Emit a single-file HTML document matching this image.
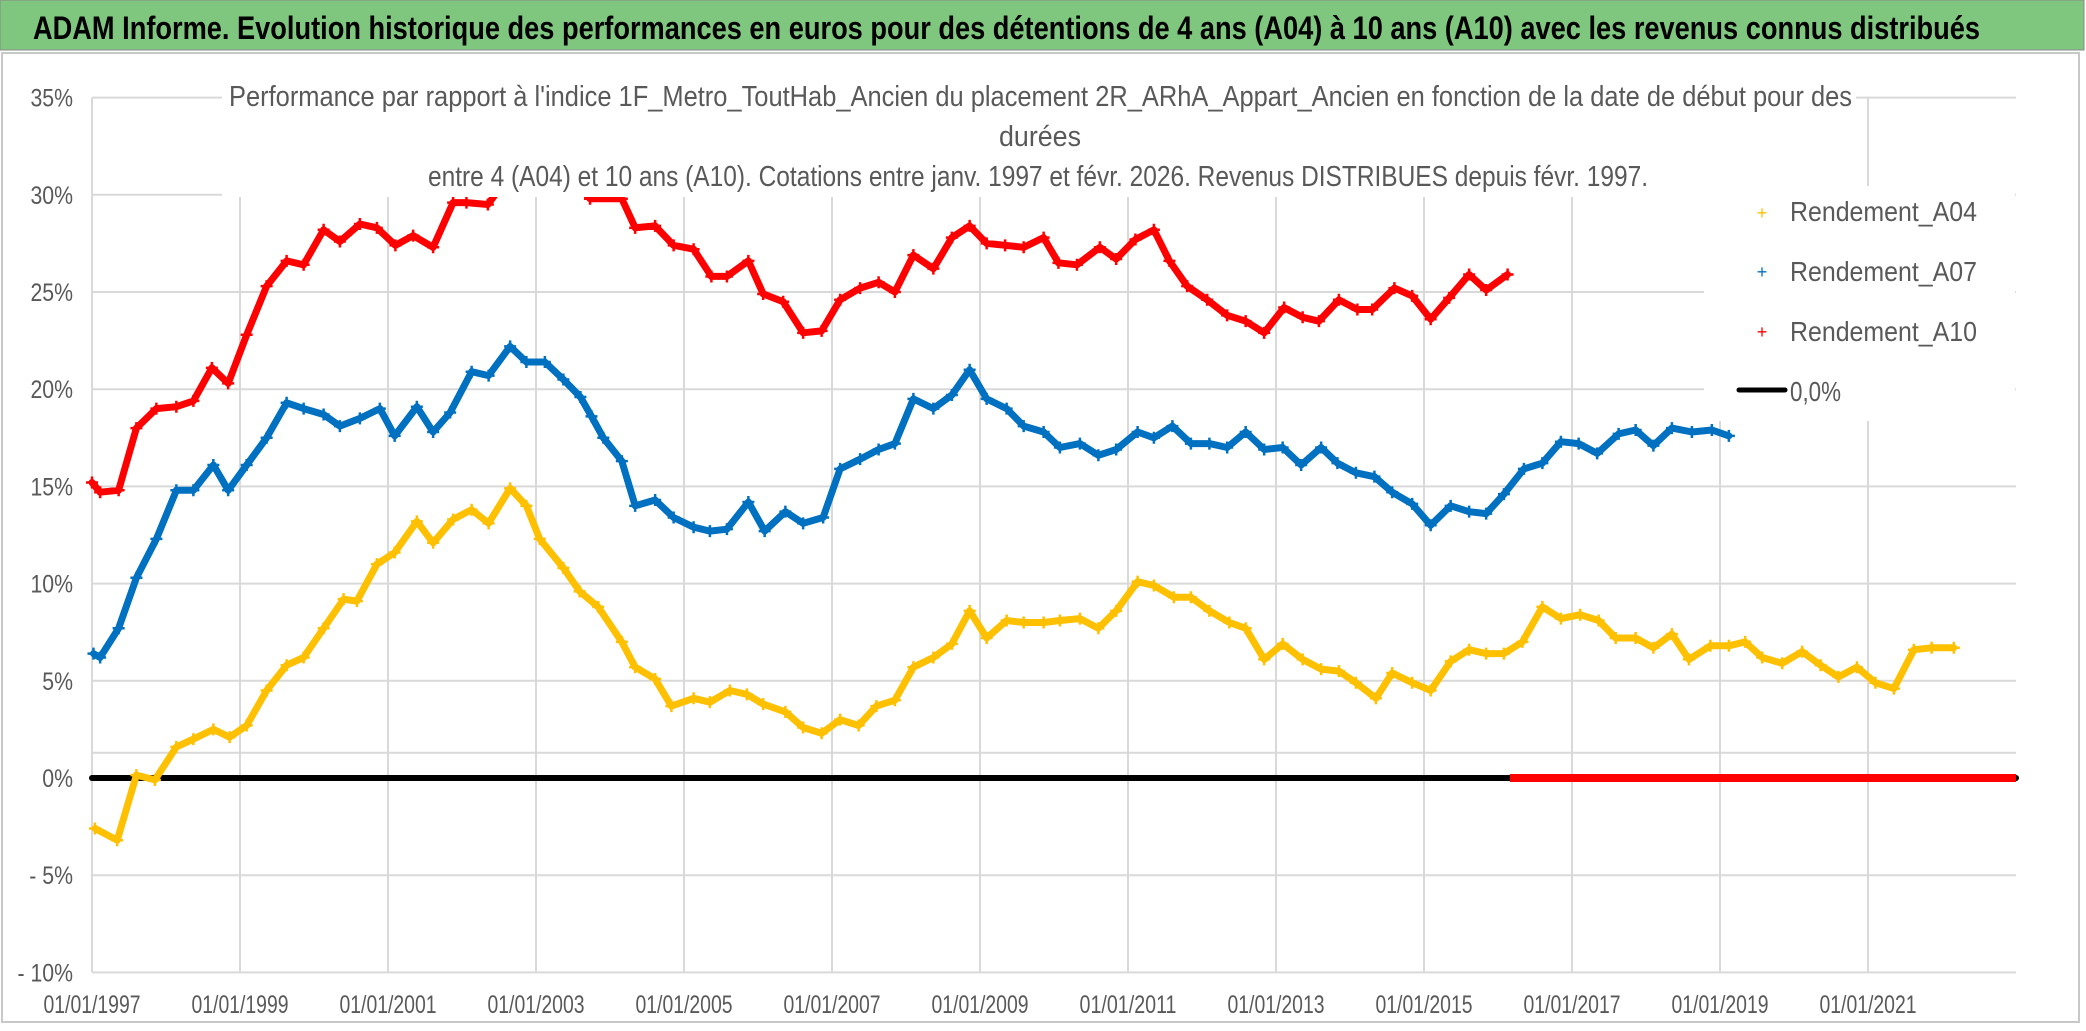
<!DOCTYPE html>
<html><head><meta charset="utf-8"><style>
html,body{margin:0;padding:0;background:#fff;}
svg{display:block;}
text{font-family:"Liberation Sans",sans-serif;}
</style></head><body>
<svg id="chart" width="2086" height="1031" viewBox="0 0 2086 1031" xmlns="http://www.w3.org/2000/svg">
<rect x="0" y="0" width="2086" height="1031" fill="#ffffff"/>
<rect x="0" y="0" width="2084" height="50" fill="#7fc77f" stroke="#8a8a8a" stroke-width="1"/>
<text x="33" y="39" font-size="32" font-weight="bold" fill="#000" textLength="1947" lengthAdjust="spacingAndGlyphs">ADAM Informe. Evolution historique des performances en euros pour des détentions de 4 ans (A04) à 10 ans (A10) avec les revenus connus distribués</text>
<rect x="2" y="53" width="2077" height="969" fill="none" stroke="#c8c8c8" stroke-width="2"/>
<g id="grid"></g>
<g id="series"></g>
<rect x="222" y="60" width="1634" height="137" fill="#ffffff"/>
<text x="229" y="106" font-size="29" fill="#595959" textLength="1623" lengthAdjust="spacingAndGlyphs">Performance par rapport à l'indice 1F_Metro_ToutHab_Ancien  du placement 2R_ARhA_Appart_Ancien en fonction de la date de début pour des</text>
<text x="1040" y="146" font-size="29" fill="#595959" text-anchor="middle" textLength="82" lengthAdjust="spacingAndGlyphs">durées</text>
<text x="428" y="186" font-size="29" fill="#595959" textLength="1220" lengthAdjust="spacingAndGlyphs">entre 4 (A04) et 10 ans (A10). Cotations entre janv. 1997 et févr. 2026. Revenus DISTRIBUES depuis févr. 1997.</text>
<rect x="1704" y="186" width="311" height="235" fill="#ffffff"/>
<g>
  <g>
    <text x="1762" y="219" font-size="18" fill="#FFC000" text-anchor="middle">+</text>
    <text x="1790" y="221" font-size="28" fill="#595959" textLength="187" lengthAdjust="spacingAndGlyphs">Rendement_A04</text>
  </g>
  <g>
    <text x="1762" y="278" font-size="18" fill="#0070C0" text-anchor="middle">+</text>
    <text x="1790" y="281" font-size="28" fill="#595959" textLength="187" lengthAdjust="spacingAndGlyphs">Rendement_A07</text>
  </g>
  <g>
    <text x="1762" y="338" font-size="18" fill="#FF0000" text-anchor="middle">+</text>
    <text x="1790" y="341" font-size="28" fill="#595959" textLength="187" lengthAdjust="spacingAndGlyphs">Rendement_A10</text>
  </g>
  <g>
    <line x1="1739" y1="390" x2="1785" y2="390" stroke="#000" stroke-width="5" stroke-linecap="round"/>
    <text x="1790" y="401" font-size="28" fill="#595959" textLength="51" lengthAdjust="spacingAndGlyphs">0,0%</text>
  </g>
</g>
<g id="axes"></g>
</svg>
<script>
const yTicks = [35, 30, 25, 20, 15, 10, 5, 0, -5, -10];
const yTickLabels = ["35%","30%","25%","20%","15%","10%","5%","0%","- 5%","- 10%"];
const xTickYears = [1997,1999,2001,2003,2005,2007,2009,2011,2013,2015,2017,2019,2021];
const xTickLabels = ["01/01/1997","01/01/1999","01/01/2001","01/01/2003","01/01/2005","01/01/2007","01/01/2009","01/01/2011","01/01/2013","01/01/2015","01/01/2017","01/01/2019","01/01/2021"];

const a04Years = [1997.04,1997.34,1997.6,1997.85,1998.14,1998.37,1998.64,1998.86,1999.09,1999.36,1999.63,1999.86,2000.13,2000.4,2000.58,2000.85,2001.09,2001.39,2001.61,2001.88,2002.13,2002.36,2002.65,2002.87,2003.05,2003.37,2003.59,2003.84,2004.16,2004.34,2004.61,2004.83,2005.13,2005.35,2005.62,2005.85,2006.07,2006.37,2006.61,2006.86,2007.11,2007.36,2007.6,2007.85,2008.1,2008.37,2008.62,2008.86,2009.09,2009.36,2009.59,2009.86,2010.08,2010.35,2010.6,2010.84,2011.13,2011.35,2011.62,2011.85,2012.1,2012.37,2012.59,2012.84,2013.09,2013.36,2013.61,2013.85,2014.08,2014.35,2014.57,2014.84,2015.09,2015.36,2015.61,2015.84,2016.08,2016.33,2016.6,2016.85,2017.11,2017.36,2017.59,2017.86,2018.1,2018.35,2018.58,2018.87,2019.12,2019.34,2019.57,2019.84,2020.11,2020.36,2020.6,2020.85,2021.1,2021.35,2021.62,2021.86,2022.16];
const a04Values = [-2.6,-3.2,0.15,-0.1,1.6,2.0,2.5,2.1,2.7,4.5,5.8,6.2,7.7,9.2,9.1,11.0,11.6,13.2,12.1,13.3,13.8,13.1,14.9,14.0,12.3,10.8,9.6,8.8,7.0,5.7,5.1,3.7,4.1,3.9,4.5,4.3,3.8,3.4,2.6,2.3,3.0,2.7,3.7,4.0,5.7,6.2,6.9,8.6,7.2,8.1,8.0,8.0,8.1,8.2,7.7,8.6,10.1,9.9,9.3,9.3,8.6,8.0,7.7,6.1,6.9,6.1,5.6,5.5,4.9,4.1,5.4,4.9,4.5,6.0,6.6,6.4,6.4,7.0,8.8,8.2,8.4,8.1,7.2,7.2,6.7,7.4,6.1,6.8,6.8,7.0,6.2,5.9,6.5,5.8,5.2,5.7,4.9,4.6,6.6,6.7,6.7];
const a04ZeroFrom = 2022.2;

const a07Years = [1997.02,1997.11,1997.36,1997.6,1997.87,1998.14,1998.37,1998.64,1998.84,1999.09,1999.36,1999.63,1999.86,2000.13,2000.35,2000.62,2000.89,2001.09,2001.39,2001.61,2001.84,2002.13,2002.36,2002.65,2002.87,2003.12,2003.37,2003.6,2003.75,2003.91,2004.16,2004.34,2004.61,2004.86,2005.13,2005.35,2005.58,2005.87,2006.09,2006.37,2006.61,2006.88,2007.11,2007.38,2007.63,2007.85,2008.1,2008.37,2008.62,2008.86,2009.09,2009.36,2009.59,2009.86,2010.08,2010.35,2010.6,2010.84,2011.13,2011.35,2011.6,2011.85,2012.1,2012.34,2012.59,2012.84,2013.09,2013.34,2013.61,2013.83,2014.08,2014.33,2014.57,2014.84,2015.09,2015.36,2015.61,2015.84,2016.08,2016.35,2016.6,2016.85,2017.09,2017.34,2017.63,2017.86,2018.1,2018.35,2018.62,2018.89,2019.12];
const a07Values = [6.4,6.2,7.7,10.3,12.3,14.8,14.8,16.1,14.8,16.1,17.5,19.3,19.0,18.7,18.1,18.5,19.0,17.6,19.1,17.8,18.8,20.9,20.7,22.2,21.4,21.4,20.5,19.6,18.6,17.5,16.3,14.0,14.3,13.4,12.9,12.7,12.8,14.2,12.7,13.7,13.1,13.4,15.9,16.4,16.9,17.2,19.5,19.0,19.7,21.0,19.5,19.0,18.1,17.8,17.0,17.2,16.6,16.9,17.8,17.5,18.1,17.2,17.2,17.0,17.8,16.9,17.0,16.1,17.0,16.2,15.7,15.5,14.7,14.1,13.0,14.0,13.7,13.6,14.6,15.9,16.2,17.3,17.2,16.7,17.7,17.9,17.1,18.0,17.8,17.9,17.6];
const a07ZeroFrom = 2019.15;

const a10Years = [1997.0,1997.11,1997.36,1997.6,1997.87,1998.14,1998.37,1998.62,1998.84,1999.09,1999.36,1999.63,1999.86,2000.13,2000.35,2000.62,2000.85,2001.1,2001.34,2001.61,2001.88,2002.06,2002.35,2002.6,2003.1,2003.5,2003.73,2004.16,2004.34,2004.61,2004.86,2005.13,2005.37,2005.58,2005.87,2006.07,2006.34,2006.61,2006.86,2007.11,2007.38,2007.63,2007.85,2008.1,2008.37,2008.62,2008.86,2009.09,2009.34,2009.59,2009.86,2010.06,2010.31,2010.62,2010.84,2011.1,2011.35,2011.56,2011.8,2012.07,2012.34,2012.59,2012.84,2013.11,2013.36,2013.58,2013.85,2014.1,2014.3,2014.6,2014.84,2015.09,2015.34,2015.61,2015.84,2016.13];
const a10Values = [15.2,14.7,14.8,18.0,19.0,19.1,19.4,21.1,20.3,22.8,25.3,26.6,26.4,28.2,27.6,28.5,28.3,27.4,27.9,27.3,29.6,29.6,29.5,30.8,31.5,30.8,29.8,29.8,28.3,28.4,27.4,27.2,25.8,25.8,26.6,24.9,24.5,22.9,23.0,24.6,25.2,25.5,25.0,26.9,26.2,27.8,28.4,27.5,27.4,27.3,27.8,26.5,26.4,27.3,26.7,27.7,28.2,26.6,25.3,24.6,23.8,23.5,22.9,24.2,23.7,23.5,24.6,24.1,24.1,25.2,24.8,23.6,24.7,25.9,25.1,25.9];
const a10ZeroFrom = 2016.16;

const X0 = 92, X1 = 2016, YEAR0 = 1997, YEAR1 = 2023;
const Y0 = 778, PX_PER_PCT = 19.44;
function x(year){ return X0 + (year - YEAR0) * (X1 - X0) / (YEAR1 - YEAR0); }
function y(v){ return Y0 - v * PX_PER_PCT; }
const NS = "http://www.w3.org/2000/svg";
function mk(tag, attrs, parent){
  const e = document.createElementNS(NS, tag);
  for (const k in attrs) e.setAttribute(k, attrs[k]);
  parent.appendChild(e);
  return e;
}
const grid = document.getElementById('grid');
const series = document.getElementById('series');
const axes = document.getElementById('axes');

yTicks.forEach((v, i) => {
  const yy = v === 0 ? y(1.3) : y(v);
  const g = mk('line', {x1: X0, x2: X1, y1: yy, y2: yy, stroke: '#d9d9d9', 'stroke-width': 2}, grid);
  
  
  const t = mk('text', {x: 73, y: y(v) + 9, 'font-size': 25, fill: '#595959', 'text-anchor': 'end', transform: 'translate(73 0) scale(0.85 1) translate(-73 0)'}, axes);
  t.textContent = yTickLabels[i];
  
  
});
xTickYears.forEach((yr, i) => {
  const xx = x(yr);
  const g = mk('line', {x1: xx, x2: xx, y1: (i === 0 ? y(35) : 97), y2: y(-10), stroke: '#d9d9d9', 'stroke-width': 2}, grid);
  
  
  const t = mk('text', {x: xx, y: 1013, 'font-size': 25, fill: '#595959', 'text-anchor': 'middle', textLength: 97, lengthAdjust: 'spacingAndGlyphs'}, axes);
  t.textContent = xTickLabels[i];
  
  
});

function drawSeries(years, vals, color, name){
  const pts = years.map((yr, i) => x(yr).toFixed(1) + ',' + y(vals[i]).toFixed(1)).join(' ');
  const p = mk('polyline', {points: pts, fill: 'none', stroke: color, 'stroke-width': 7, 'stroke-linejoin': 'round', 'stroke-linecap': 'round'}, series);
  
  
  let d = '';
  years.forEach((yr, i) => {
    const px = x(yr), py = y(vals[i]);
    d += 'M' + (px - 6) + ' ' + py + 'h12M' + px + ' ' + (py - 6) + 'v12';
  });
  const m = mk('path', {d: d, stroke: color, 'stroke-width': 2.5, fill: 'none'}, series);
  
  
}
function drawTail(from, color, name){
  const l = mk('line', {x1: x(from), x2: x(YEAR1), y1: y(0), y2: y(0), stroke: color, 'stroke-width': 8}, series);
  
  
}
const zl = mk('line', {x1: X0, x2: X1, y1: y(0), y2: y(0), stroke: '#000', 'stroke-width': 6, 'stroke-linecap': 'round'}, series);


drawSeries(a04Years, a04Values, '#FFC000', 'series-a04');
drawSeries(a07Years, a07Values, '#0070C0', 'series-a07');
drawSeries(a10Years, a10Values, '#FF0000', 'series-a10');
drawTail(a07ZeroFrom, '#0070C0', 'series-a07-zero-tail');
drawTail(a04ZeroFrom, '#FFC000', 'series-a04-zero-tail');
drawTail(a10ZeroFrom, '#FF0000', 'series-a10-zero-tail');
</script>
</body></html>
